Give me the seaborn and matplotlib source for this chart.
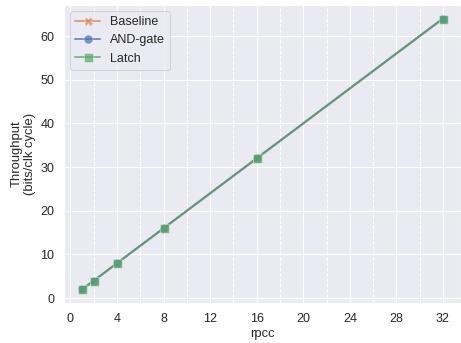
import pandas as pd
import seaborn as sb
import matplotlib.pyplot as plt
from matplotlib.ticker import MultipleLocator

rpcc = [1, 2, 4, 8, 16, 32]
baseline = [2, 4, 8, 16, 32, 64]
and_gate = [2, 4, 8, 16, 32, 64]
latch = [2, 4, 8, 16, 32, 64]

designs = ["Baseline", "AND-gate", "Latch"]
markers = {"Baseline": "X", "AND-gate": "o", "Latch": "s"}

df_list = []
for name, vals in zip(designs, [baseline, and_gate, latch]):
    df_list.append(pd.DataFrame({"rpcc": rpcc, "Throughput": vals, "design": name}))
combined_df = pd.concat(df_list, ignore_index=True)

sb.set_theme(style="darkgrid")
plt.rcParams["font.family"] = ["Arial", "Liberation Sans", "DejaVu Sans"]
pal = sb.color_palette()
palette = {"Baseline": pal[1], "AND-gate": pal[0], "Latch": pal[2]}

fig = plt.figure(figsize=(461 / 72, 343 / 72), dpi=72)
ax = fig.add_axes([64 / 461, 1 - 303 / 343, 397 / 461, 298 / 343])
sb.lineplot(
    data=combined_df,
    x="rpcc",
    y="Throughput",
    hue="design",
    style="design",
    palette=palette,
    markers=markers,
    dashes=False,
    markersize=9,
    markeredgewidth=0.5,
    linewidth=2,
    alpha=0.7,
    ax=ax,
)

ax.xaxis.set_major_locator(MultipleLocator(4))
ax.xaxis.set_minor_locator(MultipleLocator(2))
ax.grid(which="minor", axis="x", linestyle="--", color="white", linewidth=1)
ax.tick_params(labelsize=12.5)
ax.set_xlabel("rpcc", fontsize=13)
ax.set_ylabel("Throughput\n(bits/clk cycle)", fontsize=13)
ax.legend(loc="upper left", fontsize=12.5)

plt.savefig("out.png", dpi=72)
plt.close()
